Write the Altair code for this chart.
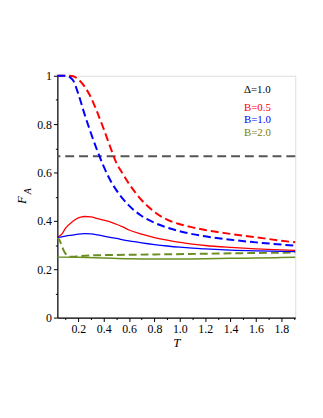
import altair as alt
import pandas as pd

# ---- data ----
# B=0.5 (red) dashed
t_red_d = [0.035, 0.07, 0.1, 0.13, 0.16, 0.2, 0.25, 0.3, 0.35, 0.4, 0.45, 0.5, 0.55, 0.6, 0.7, 0.8, 0.9, 1.0, 1.1, 1.2, 1.4, 1.6, 1.8, 1.91]
v_red_d = [1.0, 1.0, 1.0, 1.0, 0.998, 0.985, 0.955, 0.91, 0.848, 0.78, 0.708, 0.64, 0.595, 0.553, 0.485, 0.437, 0.405, 0.386, 0.373, 0.362, 0.346, 0.332, 0.318, 0.311]
# B=1.0 (blue) dashed
t_blue_d = [0.035, 0.07, 0.1, 0.13, 0.16, 0.2, 0.25, 0.3, 0.35, 0.4, 0.45, 0.5, 0.55, 0.6, 0.7, 0.8, 0.9, 1.0, 1.1, 1.2, 1.4, 1.6, 1.8, 1.91]
v_blue_d = [1.0, 1.0, 1.0, 0.995, 0.98, 0.925, 0.84, 0.762, 0.69, 0.625, 0.57, 0.527, 0.492, 0.463, 0.42, 0.392, 0.372, 0.357, 0.345, 0.336, 0.322, 0.311, 0.302, 0.297]
# B=0.5 (red) solid
t_red_s = [0.035, 0.07, 0.1, 0.15, 0.2, 0.25, 0.3, 0.35, 0.4, 0.45, 0.5, 0.55, 0.6, 0.7, 0.8, 0.9, 1.0, 1.1, 1.2, 1.4, 1.6, 1.8, 1.91]
v_red_s = [0.333, 0.345, 0.37, 0.395, 0.412, 0.418, 0.416, 0.409, 0.403, 0.396, 0.386, 0.375, 0.362, 0.345, 0.331, 0.32, 0.311, 0.304, 0.298, 0.29, 0.284, 0.28, 0.278]
# B=1.0 (blue) solid
t_blue_s = [0.035, 0.07, 0.1, 0.15, 0.2, 0.25, 0.3, 0.35, 0.4, 0.5, 0.6, 0.7, 0.8, 0.9, 1.0, 1.1, 1.2, 1.4, 1.6, 1.8, 1.91]
v_blue_s = [0.333, 0.334, 0.337, 0.341, 0.345, 0.347, 0.346, 0.342, 0.337, 0.327, 0.317, 0.309, 0.302, 0.296, 0.291, 0.287, 0.284, 0.279, 0.276, 0.274, 0.273]
# B=2.0 (olive) dashed
t_olive_d = [0.035, 0.05, 0.06, 0.075, 0.09, 0.11, 0.13, 0.16, 0.2, 0.3, 0.5, 0.8, 1.2, 1.6, 1.91]
v_olive_d = [0.333, 0.322, 0.31, 0.29, 0.272, 0.258, 0.252, 0.252, 0.254, 0.257, 0.259, 0.261, 0.264, 0.267, 0.269]
# B=2.0 (olive) solid
t_olive_s = [0.035, 0.2, 0.4, 0.6, 0.8, 1.0, 1.2, 1.4, 1.6, 1.8, 1.91]
v_olive_s = [0.25, 0.249, 0.246, 0.243, 0.242, 0.242, 0.243, 0.245, 0.246, 0.248, 0.249]

ref_level = 2 / 3

x_ticks = [0.1, 0.2, 0.3, 0.4, 0.5, 0.6, 0.7, 0.8, 0.9, 1.0, 1.1, 1.2, 1.3, 1.4, 1.5, 1.6, 1.7, 1.8, 1.9]
y_ticks = [0.0, 0.1, 0.2, 0.3, 0.4, 0.5, 0.6, 0.7, 0.8, 0.9, 1.0]

FONT = "Liberation Serif"
RED = "#ff0000"
BLUE = "#0000ff"
OLIVE = "#6b8e23"
OLIVE_TXT = "#808000"
GRAY = "#555555"

x_scale = alt.Scale(domain=[0.035, 1.91], nice=False, zero=False)
y_scale = alt.Scale(domain=[0, 1], nice=False)

major_x = "abs(datum.value*5 - round(datum.value*5)) < 0.01"
major_y = "abs(datum.value*5 - round(datum.value*5)) < 0.01"

x_axis = alt.Axis(
    values=x_ticks, title="T", titleFont=FONT, titleFontStyle="italic",
    titleFontWeight="normal", titleFontSize=13, titlePadding=2,
    labelFont=FONT, labelFontSize=12, labelColor="black",
    labelExpr=f"{major_x} ? format(datum.value, '.1f') : ''",
    tickSize={"condition": {"test": major_x, "value": 4}, "value": 2},
    tickColor="black", domainColor="black", domainWidth=1.2, grid=False,
    labelPadding=2, labelFlush=False, labelOverlap=False,
)
y_axis = alt.Axis(
    values=y_ticks, title=None,
    labelFont=FONT, labelFontSize=12, labelColor="black",
    labelExpr=f"{major_y} ? (datum.value == 0 ? '0' : datum.value == 1 ? '1' : format(datum.value, '.1f')) : ''",
    tickSize={"condition": {"test": major_y, "value": 4}, "value": 2},
    tickColor="black", domainColor="black", domainWidth=1.2, grid=False,
    labelPadding=2, labelFlush=False, labelOverlap=False,
)


def curve(ts, vs, color, dashed, width):
    df = pd.DataFrame({"T": ts, "F": vs})
    kw = dict(color=color, strokeWidth=width, interpolate="monotone")
    if dashed:
        kw["strokeDash"] = [8, 4]
    return alt.Chart(df).mark_line(**kw).encode(
        x=alt.X("T:Q", scale=x_scale, axis=x_axis),
        y=alt.Y("F:Q", scale=y_scale, axis=y_axis),
    )


one = alt.Data(values=[{"a": 1}])

ref_line = alt.Chart(one).mark_rule(color=GRAY, strokeWidth=2, strokeDash=[9, 5]).encode(
    y=alt.datum(ref_level, scale=y_scale, axis=y_axis)
)


def label(txt, color, x, y, size=11, style="normal"):
    return alt.Chart(one).mark_text(
        text=txt, color=color, font=FONT, fontSize=size, fontStyle=style,
        align="left", baseline="middle"
    ).encode(x=alt.value(x), y=alt.value(y))


y_title_F = alt.Chart(one).mark_text(
    text="F", font=FONT, fontSize=13, fontStyle="italic", angle=270,
    align="center", baseline="middle", color="black"
).encode(x=alt.value(-36), y=alt.value(126))
y_title_A = alt.Chart(one).mark_text(
    text="A", font=FONT, fontSize=10, fontStyle="italic", angle=270,
    align="center", baseline="middle", color="black"
).encode(x=alt.value(-30), y=alt.value(117))

chart = alt.layer(
    ref_line,
    curve(t_red_d, v_red_d, RED, True, 2),
    curve(t_blue_d, v_blue_d, BLUE, True, 2),
    curve(t_olive_d, v_olive_d, OLIVE, True, 2),
    curve(t_red_s, v_red_s, RED, False, 1.3),
    curve(t_blue_s, v_blue_s, BLUE, False, 1.3),
    curve(t_olive_s, v_olive_s, OLIVE, False, 1.5),
    label("Δ=1.0", "black", 189, 15),
    label("B=0.5", RED, 189, 33),
    label("B=1.0", BLUE, 189, 45),
    label("B=2.0", OLIVE_TXT, 189, 58),
    y_title_F,
    y_title_A,
).properties(
    width=241, height=245,
    autosize=alt.AutoSizeParams(type="none"),
    padding={"left": 50, "top": 66, "right": 20, "bottom": 90},
).configure_view(
    stroke="#808080", strokeWidth=1.5
).configure(background="white")

chart.save("out.html", embed_options={"renderer": "svg", "actions": False})
